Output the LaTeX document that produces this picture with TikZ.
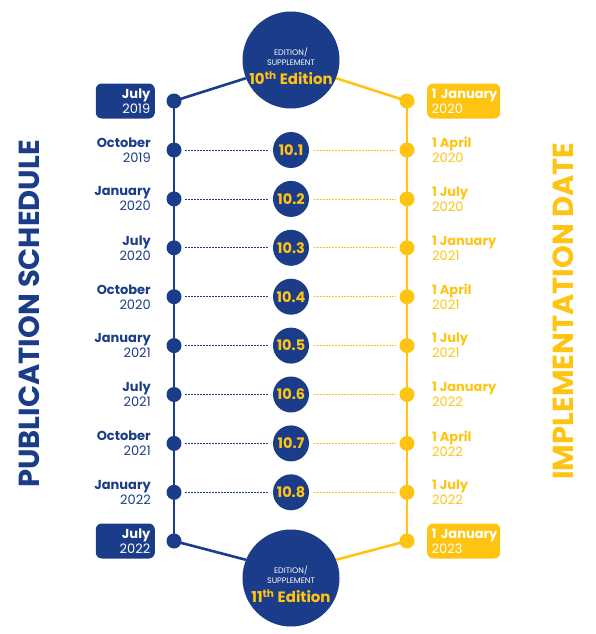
\documentclass[tikz,border=0pt]{standalone}
\usepackage{fontspec}
\setmainfont{Poppins}
\definecolor{navy}{RGB}{27,61,137}
\definecolor{gold}{RGB}{255,196,18}
\tikzset{
  dot/.style={circle, fill=#1, minimum size=15pt, inner sep=0pt},
  num/.style={circle, fill=navy, minimum size=36pt, inner sep=0pt, text=gold,
    font=\bfseries\fontsize{14.5}{14.5}\selectfont},
  big/.style={circle, fill=navy, minimum size=97pt, inner sep=0pt},
  datefont/.style={font=\fontsize{13}{15}\selectfont},
  leftdate/.style={datefont, text=navy, anchor=east, align=right, inner sep=0pt},
  rightdate/.style={datefont, text=gold, anchor=west, align=left, inner sep=0pt},
  datebox/.style={datefont, fill=#1, text=white, rounded corners=6pt,
    minimum height=35pt, inner xsep=4.5pt},
  rail/.style={line width=2.6pt, #1},
  link/.style={line width=0.8pt, #1, dash pattern=on 2pt off 1pt},
  title/.style={rotate=90, font=\bfseries\fontsize{29}{29}\selectfont, text=#1},
  inside/.style={align=center, text=white, font=\fontsize{8}{10}\selectfont}
}
\begin{document}
\begin{tikzpicture}[x=1pt, y=-1pt]
\useasboundingbox (0,0) rectangle (596,634);

% edition circles
\node[big] (t) at (291,60) {};
\node[big] (b) at (291,578) {};
\node[inside] (tt) at ([yshift=-6pt]t.center)
  {EDITION/\\SUPPLEMENT\\[5pt]{\color{gold}\bfseries\fontsize{15}{15}\selectfont 10\textsuperscript{th} Edition}};
\node[inside] (bt) at ([yshift=-6pt]b.center)
  {EDITION/\\SUPPLEMENT\\[5pt]{\color{gold}\bfseries\fontsize{15}{15}\selectfont 11\textsuperscript{th} Edition}};

% end dots
\coordinate (l0) at (174,101);
\coordinate (r0) at (407,101);
\coordinate (l9) at (174,541);
\coordinate (r9) at (407,541);

% rails
\draw[rail=navy] (l0) -- (l9);
\draw[rail=gold] (r0) -- (r9);
\draw[rail=navy] (l0) -- (t.202);
\draw[rail=gold] (r0) -- (t.338);
\draw[rail=navy] (l9) -- (b.158);
\draw[rail=gold] (r9) -- (b.22);

\node[dot=navy] at (l0) {};
\node[dot=gold] at (r0) {};
\node[dot=navy] at (l9) {};
\node[dot=gold] at (r9) {};

% first and last dates
\node[datebox=navy, text width=50pt, align=right, anchor=east] (d0) at (155,101) {\textbf{July}\\2019};
\node[datebox=gold, text width=64pt, align=left, anchor=west] (e0) at (427,101) {\mbox{\textbf{1 January}}\\2020};
\node[datebox=navy, text width=50pt, align=right, anchor=east] (d9) at (155,541) {\textbf{July}\\2022};
\node[datebox=gold, text width=64pt, align=left, anchor=west] (e9) at (427,541) {\mbox{\textbf{1 January}}\\2023};

% supplements
\foreach \i/\mo/\yr/\dd/\dy in {1/October/2019/1 April/2020, 2/January/2020/1 July/2020,
    3/July/2020/1 January/2021, 4/October/2020/1 April/2021, 5/January/2021/1 July/2021,
    6/July/2021/1 January/2022, 7/October/2021/1 April/2022, 8/January/2022/1 July/2022}{
  \pgfmathsetmacro{\yy}{150+48.9*(\i-1)}
  \node[dot=navy] (l\i) at (174,\yy) {};
  \node[dot=gold] (r\i) at (407,\yy) {};
  \node[num] (c\i) at (291,\yy) {10.\i};
  \draw[link=navy] ([xshift=3pt]l\i.east) -- ([xshift=-5pt]c\i.west);
  \draw[link=gold] ([xshift=5pt]c\i.east) -- ([xshift=-3pt]r\i.west);
  \node[leftdate] (d\i) at (151,\yy) {\textbf{\mo}\\\yr};
  \node[rightdate] (e\i) at (432,\yy) {\textbf{\dd}\\\dy};
}

% side titles
\node[title=navy] (ps) at (29,314) {PUBLICATION SCHEDULE};
\node[title=gold] (id) at (563,311) {IMPLEMENTATION DATE};
\end{tikzpicture}
\end{document}
